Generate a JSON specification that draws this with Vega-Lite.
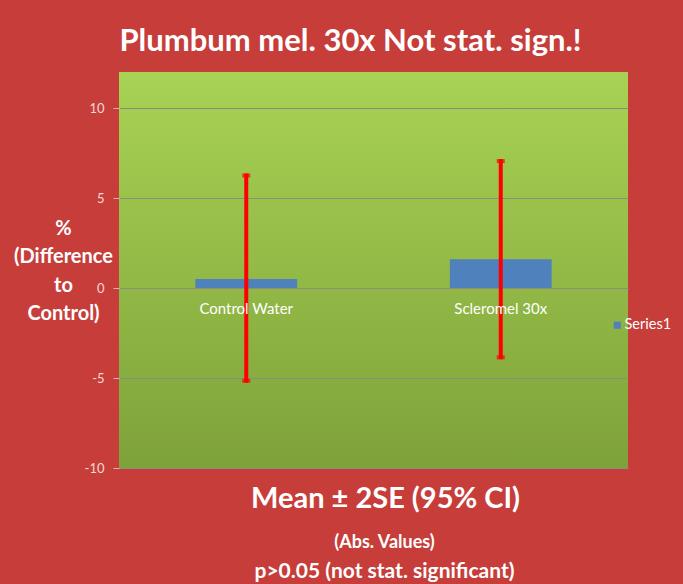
{
  "$schema": "https://vega.github.io/schema/vega-lite/v6.json",
  "width": 509,
  "height": 396,
  "autosize": "none",
  "padding": {"left": 119, "top": 72, "right": 55, "bottom": 116},
  "background": "#c63d3a",
  "config": {
    "font": "Lato",
    "view": {
      "stroke": null,
      "fill": {"gradient": "linear", "x1": 0, "y1": 0, "x2": 0, "y2": 1,
        "stops": [{"offset": 0, "color": "#a8d254"}, {"offset": 1, "color": "#7ea23a"}]}
    }
  },
  "title": {
    "text": "(Abs. Values)",
    "subtitle": "p>0.05 (not stat. significant)",
    "orient": "bottom",
    "anchor": "middle",
    "frame": "group",
    "dx": 11,
    "offset": 21,
    "font": "Lato",
    "fontSize": 18,
    "fontWeight": "bold",
    "color": "#ffffff",
    "subtitleFont": "Lato",
    "subtitleFontSize": 21,
    "subtitleFontWeight": "bold",
    "subtitleColor": "#ffffff",
    "subtitlePadding": 9
  },
  "data": {
    "values": [
      {"cat": "Control Water", "mean": 0.5, "lo": -5.15, "hi": 6.25},
      {"cat": "Scleromel 30x", "mean": 1.6, "lo": -3.85, "hi": 7.05}
    ]
  },
  "resolve": {"axis": {"x": "independent"}},
  "layer": [
    {
      "mark": {"type": "bar", "stroke": null},
      "encoding": {
        "x": {
          "field": "cat", "type": "nominal", "sort": null,
          "scale": {"paddingInner": 0.6, "paddingOuter": 0.3},
          "axis": {
            "orient": "bottom", "labels": false, "ticks": false, "domain": false, "grid": false,
            "title": "Mean ± 2SE  (95% CI)",
            "titleFont": "Lato", "titleFontSize": 29, "titleFontWeight": "bold", "titleColor": "#ffffff",
            "titlePadding": 16, "titleX": 266
          }
        },
        "y": {
          "field": "mean", "type": "quantitative",
          "scale": {"domain": [-10, 12], "nice": false, "zero": false},
          "axis": {
            "values": [-10, -5, 0, 5, 10],
            "labelExpr": "replace(datum.label, '−', '-')",
            "grid": true, "gridColor": "#8a8f7a", "gridWidth": 1.2,
            "domain": false, "tickColor": "#e9b0ae", "tickSize": 6,
            "labelColor": "#f3d9d6", "labelFontSize": 13, "labelFont": "Lato", "labelPadding": 9,
            "title": ["%", "(Difference", "to", "Control)"],
            "titleAngle": 0, "titleAlign": "center", "titleBaseline": "middle",
            "titleX": -56, "titleY": 156, "titleLineHeight": 28.5,
            "titleFont": "Lato", "titleFontSize": 20, "titleFontWeight": "bold", "titleColor": "#ffffff"
          }
        },
        "color": {
          "datum": "Series1",
          "scale": {"range": ["#4f81bd"]},
          "legend": {
            "title": null, "orient": "none", "legendX": 491, "legendY": 246,
            "symbolType": "square", "symbolSize": 50, "symbolStrokeWidth": 0,
            "labelColor": "#ffffff", "labelFontSize": 14.5, "labelFont": "Lato", "labelOffset": 0
          }
        }
      }
    },
    {
      "mark": {"type": "rule", "color": "#ff0000", "strokeWidth": 4, "strokeCap": "square"},
      "encoding": {
        "x": {"field": "cat", "type": "nominal", "sort": null, "axis": null},
        "y": {"field": "lo", "type": "quantitative"},
        "y2": {"field": "hi"}
      }
    },
    {
      "mark": {"type": "tick", "color": "#ff0000", "thickness": 4, "size": 8, "orient": "horizontal"},
      "encoding": {
        "x": {"field": "cat", "type": "nominal", "sort": null, "axis": null},
        "y": {"field": "lo", "type": "quantitative"}
      }
    },
    {
      "mark": {"type": "tick", "color": "#ff0000", "thickness": 4, "size": 8, "orient": "horizontal"},
      "encoding": {
        "x": {"field": "cat", "type": "nominal", "sort": null, "axis": null},
        "y": {"field": "hi", "type": "quantitative"}
      }
    },
    {
      "mark": {"type": "text", "color": "#ffffff", "fontSize": 15, "font": "Lato", "dy": 21, "baseline": "middle"},
      "encoding": {
        "x": {
          "field": "cat", "type": "nominal", "sort": null,
          "axis": {
            "orient": "top", "labels": false, "ticks": false, "domain": false, "grid": false,
            "title": "Plumbum mel. 30x Not stat. sign.!",
            "titleFont": "Lato", "titleFontSize": 31, "titleFontWeight": "bold", "titleColor": "#ffffff",
            "titlePadding": 15, "titleX": 231
          }
        },
        "y": {"datum": 0, "type": "quantitative"},
        "text": {"field": "cat"}
      }
    }
  ]
}
